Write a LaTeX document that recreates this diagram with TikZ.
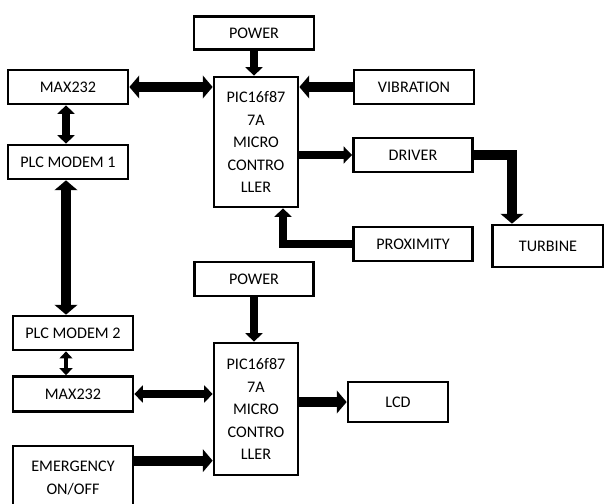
\documentclass[tikz,border=0pt]{standalone}
\usepackage{fontspec}
\setmainfont{Carlito}
\usetikzlibrary{arrows.meta}

\begin{document}
\begin{tikzpicture}[x=0.025cm,y=-0.025cm,
	blk/.style={draw,line width=1.9pt,align=center,inner sep=0pt,
		font=\fontsize{11.5}{16}\selectfont},
	fat/.style={line width=7pt,-{Triangle[length=7pt,width=16pt]}},
	fatboth/.style={line width=7pt,{Triangle[length=7pt,width=16pt]}-{Triangle[length=7pt,width=16pt]}},
	mid/.style={line width=5.5pt,-{Triangle[length=6pt,width=12pt]}},
	midboth/.style={line width=5pt,{Triangle[length=6pt,width=12pt]}-{Triangle[length=6pt,width=12pt]}},
	slim/.style={line width=3.5pt,{Triangle[length=5pt,width=9pt]}-{Triangle[length=5pt,width=9pt]}}]
	\useasboundingbox (0,0) rectangle (604,504);

	% upper half
	\node[blk,minimum width=3cm,minimum height=0.83cm] (pw1) at (254,33) {POWER};
	\node[blk,minimum width=3cm,minimum height=0.85cm] (max1) at (68,87) {MAX232};
	\node[blk,minimum width=2.1cm,minimum height=3.25cm] (pic1) at (256,142) {PIC16f87\\7A\\MICRO\\CONTRO\\LLER};
	\node[blk,minimum width=3cm,minimum height=0.85cm] (vib) at (414,87) {VIBRATION};
	\node[blk,minimum width=3cm,minimum height=0.85cm] (plc1) at (68,162) {PLC MODEM 1};
	\node[blk,minimum width=2.98cm,minimum height=0.85cm] (drv) at (413,155) {DRIVER};
	\node[blk,minimum width=2.98cm,minimum height=0.85cm] (prox) at (413,244) {PROXIMITY};
	\node[blk,minimum width=2.78cm,minimum height=1.05cm] (turb) at (548,246) {TURBINE};

	% lower half
	\node[blk,minimum width=2.98cm,minimum height=0.85cm] (pw2) at (254,279) {POWER};
	\node[blk,minimum width=3cm,minimum height=0.85cm] (plc2) at (73,333) {PLC MODEM 2};
	\node[blk,minimum width=2.1cm,minimum height=3.3cm] (pic2) at (256,409) {PIC16f87\\7A\\MICRO\\CONTRO\\LLER};
	\node[blk,minimum width=3cm,minimum height=0.87cm] (max2) at (73,394) {MAX232};
	\node[blk,minimum width=2.5cm,minimum height=1cm] (lcd) at (398,402) {LCD};
	\node[blk,minimum width=3cm,minimum height=1.6cm] (em) at (73,478) {EMERGENCY\\ON/OFF};

	\coordinate (turbin) at ([xshift=-0.9cm]turb.north);
	\coordinate (proxin) at ([xshift=0.675cm]pic1.south);
	\coordinate (emout) at ([yshift=-0.4cm]em.north east);

	\draw[mid] (pw1.south) -- (pw1.south |- pic1.north);
	\draw[fatboth] (max1.east) -- (max1.east -| pic1.west);
	\draw[fat] (vib.west) -- (vib.west -| pic1.east);
	\draw[midboth] ([xshift=-0.05cm]max1.south) -- ([xshift=-0.05cm]plc1.north);
	\draw[mid] (drv.west -| pic1.east) -- (drv.west);
	\draw[fat] (drv.east) -| (turbin);
	\draw[mid] (prox.west) -| (proxin);
	\draw[fatboth] ([xshift=-0.05cm]plc1.south) -- ([xshift=-0.05cm]plc1.south |- plc2.north);

	\draw[mid] (pw2.south) -- (pw2.south |- pic2.north);
	\draw[slim] ([xshift=-0.175cm]plc2.south) -- ([xshift=-0.175cm]max2.north);
	\draw[midboth] (max2.east) -- (max2.east -| pic2.west);
	\draw[fat] (lcd.west -| pic2.east) -- (lcd.west);
	\draw[fat] (emout) -- (emout -| pic2.west);
\end{tikzpicture}
\end{document}
